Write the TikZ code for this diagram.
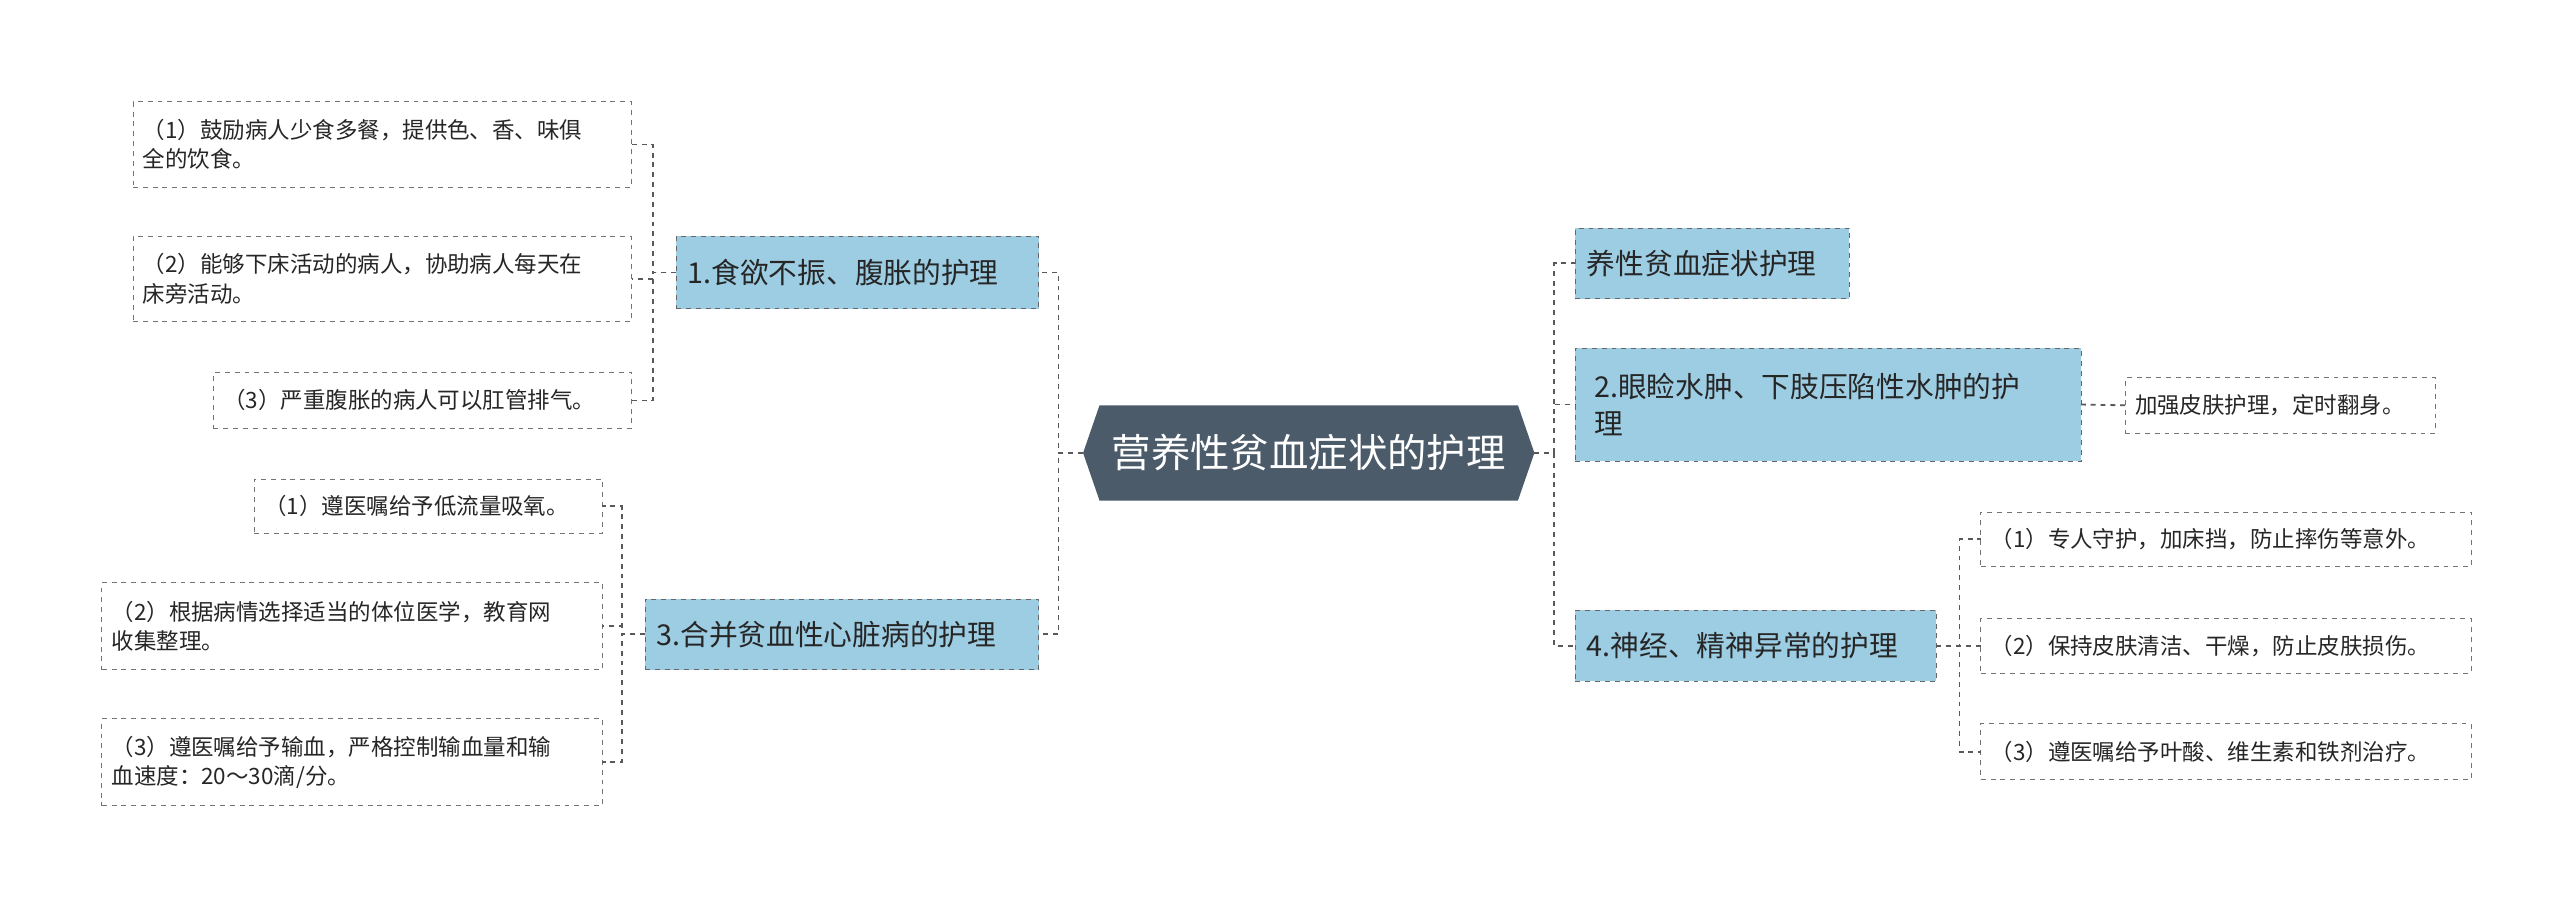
\documentclass[tikz,border=0pt]{standalone}
\usepackage{fontspec}
\setmainfont{Noto Sans CJK SC}
\begin{document}
\begin{tikzpicture}[x=1pt,y=-1pt,
  leaf/.style={draw=black!55,dashed,fill=white,anchor=north west,outer sep=0pt,inner xsep=6pt,font=\fontsize{13.7}{18}\selectfont,align=left,text=black!85},
  br/.style={draw=black!60,dashed,fill=bl,anchor=north west,outer sep=0pt,inner xsep=7pt,font=\fontsize{17.5}{23}\selectfont,align=left,text=black!85},
  con/.style={draw=black!65,dashed,line width=1.1pt}]
\definecolor{bl}{HTML}{9DCDE3}
\definecolor{rt}{HTML}{4B5B6A}
\useasboundingbox (0,0) rectangle (1560,550);
\fill[white] (0,0) rectangle (1560,550);
% root
\fill[rt] (660,276) -- (670,247) -- (925,247) -- (935,276) -- (925,305) -- (670,305) -- cycle;
\node[font=\fontsize{24}{28}\selectfont,text=white,minimum width=275pt,minimum height=58pt,outer sep=0pt] (root) at (797.5,276) {营养性贫血症状的护理};
% branches
\node[br,minimum width=221pt,minimum height=44pt,text width=207pt] (b1) at (412,144) {1.食欲不振、腹胀的护理};
\node[br,minimum width=240pt,minimum height=43pt,text width=226pt] (b3) at (393,365) {3.合并贫血性心脏病的护理};
\node[br,minimum width=167pt,minimum height=43pt,text width=153pt] (r1) at (960,139) {养性贫血症状护理};
\node[br,minimum width=308pt,minimum height=69pt,text width=285pt] (r2) at (960,212) {2.眼睑水肿、下肢压陷性水肿的护\\理};
\node[br,minimum width=220pt,minimum height=43pt,text width=206pt] (r4) at (960,372) {4.神经、精神异常的护理};
% leaves
\node[leaf,minimum width=304pt,minimum height=52pt,text width=292pt] (l1) at (81,62) {（1）鼓励病人少食多餐，提供色、香、味俱\\全的饮食。};
\node[leaf,minimum width=304pt,minimum height=52pt,text width=292pt] (l2) at (81,144) {（2）能够下床活动的病人，协助病人每天在\\床旁活动。};
\node[leaf,minimum width=255pt,minimum height=34pt,text width=243pt] (l3) at (130,227) {（3）严重腹胀的病人可以肛管排气。};
\node[leaf,minimum width=212pt,minimum height=33pt,text width=200pt] (l4) at (155,292) {（1）遵医嘱给予低流量吸氧。};
\node[leaf,minimum width=305pt,minimum height=53pt,text width=293pt] (l5) at (62,355) {（2）根据病情选择适当的体位医学，教育网\\收集整理。};
\node[leaf,minimum width=305pt,minimum height=53pt,text width=293pt] (l6) at (62,438) {（3）遵医嘱给予输血，严格控制输血量和输\\血速度：20～30滴/分。};
\node[leaf,minimum width=189pt,minimum height=34pt,text width=177pt] (r2a) at (1295,230) {加强皮肤护理，定时翻身。};
\node[leaf,minimum width=299pt,minimum height=33pt,text width=287pt] (r4a) at (1207,312) {（1）专人守护，加床挡，防止摔伤等意外。};
\node[leaf,minimum width=299pt,minimum height=33pt,text width=287pt] (r4b) at (1207,377) {（2）保持皮肤清洁、干燥，防止皮肤损伤。};
\node[leaf,minimum width=299pt,minimum height=34pt,text width=287pt] (r4c) at (1207,441) {（3）遵医嘱给予叶酸、维生素和铁剂治疗。};
% connectors
\foreach \t in {b1,b3} \draw[con] (root.west) -- ++(-15,0) |- (\t.east);
\foreach \t in {r1,r2,r4} \draw[con] (root.east) -- ++(12,0) |- (\t.west);
\foreach \t in {l1,l2,l3} \draw[con] (b1.west) -- ++(-14,0) |- (\t.east);
\foreach \t in {l4,l5,l6} \draw[con] (b3.west) -- ++(-14,0) |- (\t.east);
\draw[con] (r2.east) -- (r2a.west);
\foreach \t in {r4a,r4b,r4c} \draw[con] (r4.east) -- ++(14,0) |- (\t.west);
\end{tikzpicture}
\end{document}
